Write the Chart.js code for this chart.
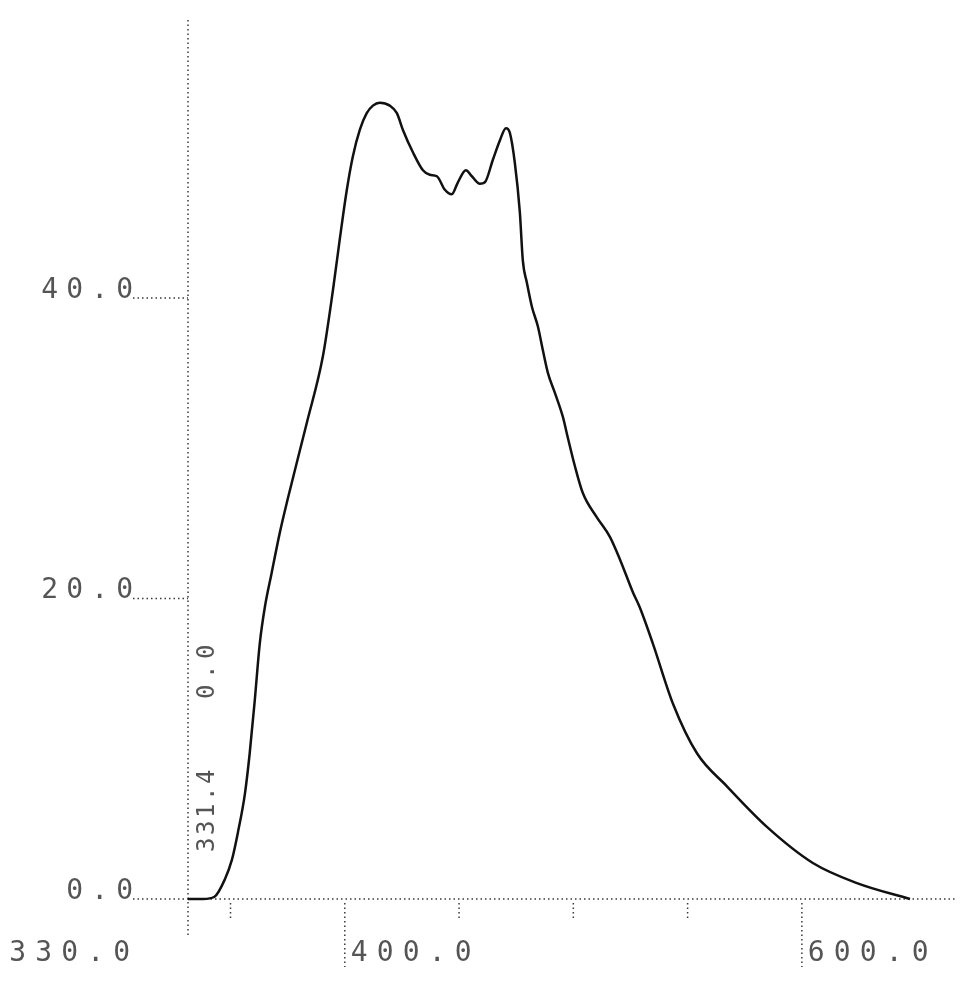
<!DOCTYPE html>
<html>
<head>
<meta charset="utf-8">
<title>Spectrum</title>
<script src="https://cdn.jsdelivr.net/npm/chart.js@4.4.1/dist/chart.umd.min.js"></script>
<style>
    html, body { margin: 0; padding: 0; background: #fff; }
    #wrap { width: 978px; height: 1000px; }
</style>
</head>
<body>
<div id="wrap"><canvas id="spectrum" width="978" height="1000"></canvas></div>
<script>
// Trace: wavelength and intensity
const wavelengths = [331.4, 338, 343, 347.5, 350.6, 353.2, 356.3, 358.4, 360.6, 362.8, 365, 368, 371.6, 375,
    383.4, 390.4, 394.8, 397.8, 400.9, 403.5, 406.6, 409.6, 412.3, 415.3, 419.7, 422.8, 425.4, 429.8,
    434.2, 437.2, 440.3, 443.8, 446.8, 449.5, 453, 455.6, 459.1, 461.3, 464.8, 467.9, 470.5, 472.2,
    474.4, 476.6, 477.9, 479.7, 481.9, 484.5, 486.7, 488.9, 491.9, 495.4, 497.6, 500.7, 504.2, 510.3,
    516, 520.4, 526.1, 529.1, 534.8, 543.6, 554.1, 567.2, 584.7, 604.8, 624.1, 647.3];
const intensities = [0, 0, 0.15, 1.3, 2.6, 4.4, 7.0, 9.7, 13.2, 17.0, 19.4, 21.7, 24.4, 26.6,
    31.7, 36.1, 40.5, 43.9, 47.2, 49.4, 51.2, 52.3, 52.8, 53.0, 52.8, 52.3, 51.2, 49.7,
    48.5, 48.2, 48.1, 47.2, 46.9, 47.7, 48.5, 48.1, 47.6, 47.7, 49.2, 50.5, 51.3, 51.0,
    49.0, 45.7, 42.5, 41.0, 39.4, 38.1, 36.5, 35.0, 33.7, 32.1, 30.7, 28.8, 27.0, 25.4,
    24.1, 22.6, 20.4, 19.4, 17.0, 13.0, 9.7, 7.5, 4.8, 2.4, 1.06, 0];

// Axis ticks and labels
const xTicks = [350, 400, 450, 500, 550, 600];
const xLabelValues = [330, 400, 600];
const yTicks = [0, 20, 40];
const startPoint = [331.4, 0.0];   // annotated start of the scan
const xRange = [331.4, 667];
const yRange = [0, 58.5];

// Draw text one character at a time on a fixed pitch (plotter style)
function spaced(ctx, text, x, y, pitch, align) {
    const chars = text.split('');
    let start = x;
    if (align === 'right') {
        const lastW = ctx.measureText(chars[chars.length - 1]).width;
        start = x - ((chars.length - 1) * pitch + lastW);
    }
    chars.forEach((c, i) => ctx.fillText(c, start + i * pitch, y));
}

function line(ctx, x1, y1, x2, y2) {
    ctx.beginPath();
    ctx.moveTo(x1, y1);
    ctx.lineTo(x2, y2);
    ctx.stroke();
}

// Dotted plotter axes, leaders and labels
const plotterAxes = {
    id: 'plotterAxes',
    beforeDatasetsDraw(chart) {
        const { ctx, chartArea, scales: { x, y } } = chart;
        const x0 = x.getPixelForValue(xRange[0]);
        const y0 = y.getPixelForValue(0);

        ctx.save();
        ctx.strokeStyle = '#3a3a3a';
        ctx.lineWidth = 1.5;
        ctx.setLineDash([1.5, 3]);

        // y axis runs a little below the x axis
        line(ctx, x0, chartArea.top, x0, y0 + 36);
        // x axis
        line(ctx, x0, y0, chartArea.right, y0);

        // y ticks: dotted leaders out to the labels
        yTicks.forEach(v => {
            const py = y.getPixelForValue(v);
            line(ctx, x0 - 55, py, x0, py);
        });

        // x ticks, long ones where there is a label
        xTicks.forEach(v => {
            const px = x.getPixelForValue(v);
            const long = xLabelValues.includes(v);
            line(ctx, px, y0 + 4, px, y0 + (long ? 68 : 22));
        });
        ctx.setLineDash([]);

        ctx.fillStyle = '#555';
        ctx.font = '28px "DejaVu Sans Mono"';
        ctx.textBaseline = 'alphabetic';

        yTicks.forEach(v => {
            spaced(ctx, v.toFixed(1), x0 - 55, y.getPixelForValue(v), 25, 'right');
        });

        xLabelValues.forEach(v => {
            if (v < xRange[0]) {
                spaced(ctx, v.toFixed(1), x0 - 58, y0 + 62, 26, 'right');
            } else {
                spaced(ctx, v.toFixed(1), x.getPixelForValue(v) + 6, y0 + 62, 26, 'left');
            }
        });

        // rotated start-point annotation along the y axis
        ctx.font = '24px "DejaVu Sans Mono"';
        ctx.save();
        ctx.translate(x0 + 26, y0 - 47);
        ctx.rotate(-Math.PI / 2);
        spaced(ctx, startPoint[0].toFixed(1), 0, 0, 17, 'left');
        spaced(ctx, startPoint[1].toFixed(1), 153, 0, 20, 'left');
        ctx.restore();

        ctx.restore();
    }
};

document.addEventListener('DOMContentLoaded', function() {
    const ctx = document.getElementById('spectrum');

    new Chart(ctx, {
        type: 'line',
        data: {
            datasets: [{
                data: wavelengths.map((w, i) => ({ x: w, y: intensities[i] })),
                borderColor: '#111',
                borderWidth: 2.5,
                pointRadius: 0,
                fill: false,
                cubicInterpolationMode: 'monotone',
                clip: 6
            }]
        },
        options: {
            responsive: false,
            animation: false,
            layout: {
                padding: { left: 188, right: 23, top: 20, bottom: 101 }
            },
            plugins: {
                legend: { display: false },
                tooltip: { enabled: false }
            },
            scales: {
                x: {
                    type: 'linear',
                    min: xRange[0],
                    max: xRange[1],
                    display: false
                },
                y: {
                    min: yRange[0],
                    max: yRange[1],
                    display: false
                }
            }
        },
        plugins: [plotterAxes]
    });
});
</script>
</body>
</html>
